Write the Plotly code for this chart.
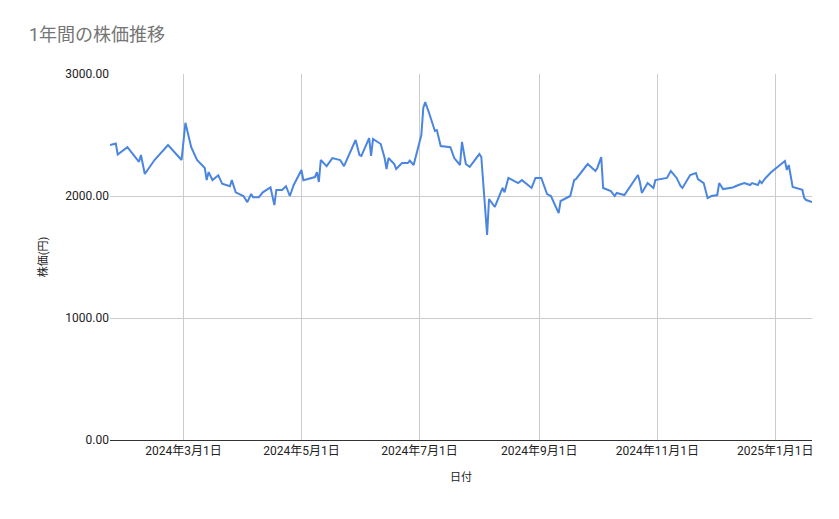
import plotly.graph_objects as go

dates = [
    "2024-01-23", "2024-01-26", "2024-01-27", "2024-02-01", "2024-02-07", "2024-02-08", "2024-02-10",
    "2024-02-15", "2024-02-22", "2024-02-29", "2024-03-02", "2024-03-05", "2024-03-08", "2024-03-12",
    "2024-03-13", "2024-03-14", "2024-03-16", "2024-03-19", "2024-03-21", "2024-03-25", "2024-03-26",
    "2024-03-28", "2024-04-01", "2024-04-03", "2024-04-05", "2024-04-06", "2024-04-09", "2024-04-11",
    "2024-04-15", "2024-04-17", "2024-04-18", "2024-04-21", "2024-04-23", "2024-04-25", "2024-04-27",
    "2024-05-01", "2024-05-02", "2024-05-08", "2024-05-09", "2024-05-10", "2024-05-11", "2024-05-14",
    "2024-05-17", "2024-05-21", "2024-05-23", "2024-05-29", "2024-05-31", "2024-06-01", "2024-06-05",
    "2024-06-06", "2024-06-07", "2024-06-11", "2024-06-13", "2024-06-14", "2024-06-15", "2024-06-18",
    "2024-06-19", "2024-06-22", "2024-06-25", "2024-06-26", "2024-06-28", "2024-07-02", "2024-07-03",
    "2024-07-04", "2024-07-06", "2024-07-09", "2024-07-10", "2024-07-12", "2024-07-17", "2024-07-19",
    "2024-07-22", "2024-07-23", "2024-07-25", "2024-07-27", "2024-08-01", "2024-08-02", "2024-08-05",
    "2024-08-06", "2024-08-09", "2024-08-13", "2024-08-14", "2024-08-16", "2024-08-21", "2024-08-23",
    "2024-08-28", "2024-08-30", "2024-09-02", "2024-09-05", "2024-09-07", "2024-09-09", "2024-09-11",
    "2024-09-12", "2024-09-17", "2024-09-19", "2024-09-20", "2024-09-26", "2024-09-30", "2024-10-01",
    "2024-10-03", "2024-10-04", "2024-10-07", "2024-10-08", "2024-10-10", "2024-10-11", "2024-10-15",
    "2024-10-22", "2024-10-23", "2024-10-24", "2024-10-27", "2024-10-30", "2024-10-31", "2024-11-04",
    "2024-11-06", "2024-11-08", "2024-11-11", "2024-11-13", "2024-11-14", "2024-11-18", "2024-11-21",
    "2024-11-22", "2024-11-25", "2024-11-27", "2024-11-29", "2024-12-02", "2024-12-03", "2024-12-05",
    "2024-12-10", "2024-12-13", "2024-12-16", "2024-12-19", "2024-12-20", "2024-12-23", "2024-12-24",
    "2024-12-25", "2024-12-27", "2024-12-30", "2025-01-02", "2025-01-06", "2025-01-07", "2025-01-08",
    "2025-01-10", "2025-01-14", "2025-01-15", "2025-01-16", "2025-01-17", "2025-01-20",
]
prices = [
    2418, 2430, 2340, 2400, 2280, 2336, 2180,
    2295, 2418, 2295, 2600, 2400, 2295, 2230,
    2130, 2196, 2130, 2170, 2100, 2080, 2130,
    2030, 2000, 1950, 2016, 1990, 1990, 2030,
    2070, 1925, 2050, 2050, 2080, 2000, 2090,
    2213, 2130, 2155, 2196, 2115, 2295, 2245,
    2311, 2295, 2245, 2459, 2336, 2328, 2475,
    2328, 2467, 2426, 2311, 2221, 2311, 2262,
    2221, 2270, 2270, 2290, 2254, 2500, 2721,
    2770, 2680, 2533, 2540, 2410, 2400, 2311,
    2254, 2443, 2262, 2238, 2344, 2320, 1680,
    1975, 1910, 2066, 2030, 2148, 2106, 2130,
    2066, 2148, 2148, 2016, 2000, 1926, 1860,
    1959, 2000, 2130, 2140, 2262, 2205, 2230,
    2320, 2066, 2050, 2040, 2000, 2025, 2008,
    2172, 2115, 2025, 2106, 2066, 2130, 2140,
    2148, 2205, 2148, 2082, 2066, 2172, 2188,
    2139, 2106, 1983, 2000, 2008, 2106, 2057,
    2070, 2090, 2106, 2090, 2106, 2090, 2123,
    2106, 2148, 2197, 2238, 2287, 2213, 2254,
    2074, 2050, 2050, 1983, 1967, 1950,
]
tick_dates = ["2024-03-01", "2024-05-01", "2024-07-01", "2024-09-01", "2024-11-01", "2025-01-01"]
tick_labels = ["2024年3月1日", "2024年5月1日", "2024年7月1日", "2024年9月1日", "2024年11月1日", "2025年1月1日"]
y_ticks = [0, 1000, 2000, 3000]

font = "Roboto, 'Noto Sans CJK JP', sans-serif"

fig = go.Figure(go.Scatter(x=dates, y=prices, mode="lines",
                           line=dict(color="#4a86e0", width=2)))
# page body adds an 8px offset, so margins are shifted to compensate
fig.update_layout(
    width=839, height=519,
    paper_bgcolor="white", plot_bgcolor="white",
    margin=dict(l=102, r=35, t=66, b=87),
    font=dict(family=font, size=12, color="#222"),
    title=dict(text="1年間の株価推移", x=0.025, y=0.96, xanchor="left",
               font=dict(size=18, color="#757575", family=font)),
    showlegend=False,
)
fig.update_xaxes(range=["2024-01-23", "2025-01-20"], tickvals=tick_dates, ticktext=tick_labels,
                 showgrid=True, gridcolor="#cccccc", ticks="", tickfont=dict(size=12, color="#222"),
                 title=dict(text="日付", font=dict(size=11)), showline=True, linecolor="#333")
fig.update_yaxes(range=[0, 3000], tickvals=y_ticks, tickformat=".2f",
                 showgrid=True, gridcolor="#cccccc", zeroline=False, ticks="",
                 tickfont=dict(size=12, color="#222"),
                 title=dict(text="株価(円)", font=dict(size=11)))
fig.write_html("out.html")
